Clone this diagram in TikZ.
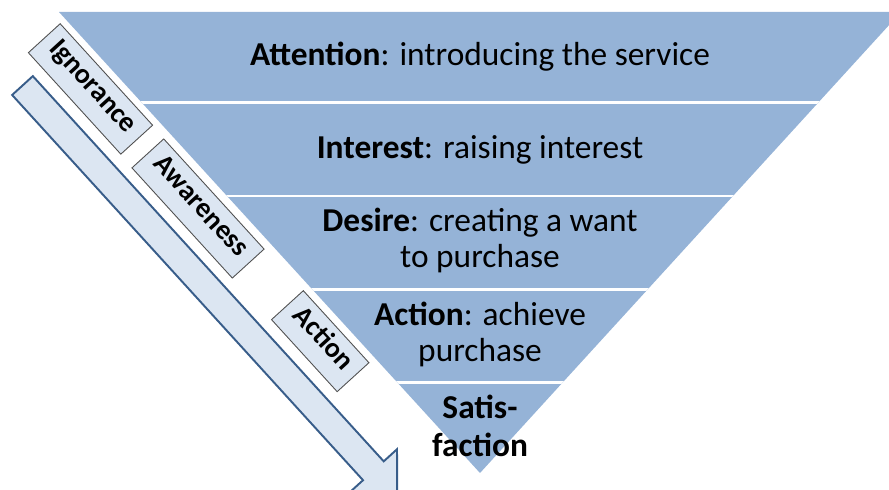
\documentclass[tikz,border=0pt]{standalone}
\usepackage{fontspec}
\setmainfont{Carlito}

\definecolor{funnelblue}{RGB}{149,179,215}
\definecolor{paleblue}{RGB}{220,230,242}
\definecolor{darkblue}{RGB}{56,93,138}
\definecolor{boxgray}{RGB}{80,80,80}

\begin{document}
\begin{tikzpicture}[x=0.02cm, y=0.02cm,
      funnel/.style={fill=funnelblue},
      gap/.style={draw=white, line width=1.6pt},
      step text/.style={anchor=base, align=center, font=\fontsize{19}{20.5}\selectfont},
      stagebox/.style={rectangle, draw=boxgray, fill=paleblue, line width=0.5pt,
        rotate=-47.67, minimum height=0.86cm, inner xsep=0.22cm,
        text height=0.68em, text depth=0.2em, font=\fontsize{16}{16}\selectfont\bfseries},
      flow/.style={draw=darkblue, fill=paleblue, line width=1.1pt, line join=miter}]
      \useasboundingbox (0,0) rectangle (889,490);
      \clip (0,0) rectangle (889,490);
      % the funnel, cut into five bands
      \fill[funnel] (59,478) -- (901,478) -- (480,17) -- cycle;
      \begin{scope}
        \clip (59,478) -- (901,478) -- (480,17) -- cycle;
        \foreach \y in {387.5, 294, 200.5, 107.5}
          \draw[gap] (0,\y) -- (889,\y);
      \end{scope}
      % base anchor sits on the last line
      \node[step text](attention) at (480,424){\textbf{Attention}: introducing the service};
      \node[step text](interest) at (480,331){\textbf{Interest}: raising interest};
      \node[step text](desire) at (480,222){\textbf{Desire}: creating a want\\to purchase};
      \node[step text](action) at (480,128){\textbf{Action}: achieve\\purchase};
      \node[step text,font=\fontsize{19}{22}\selectfont\bfseries](satisfaction) at (480,33){Satis-\\faction};
      % arrow and stage labels along the left side
      \begin{scope}[shift={(0,490)}, rotate=-47.67]
        \draw[flow] (78.4,-27) -- (599.5,-27) -- (599.5,-9) -- (634.7,-41)
          -- (599.5,-73) -- (599.5,-55) -- (78.4,-55) -- cycle;
        \node[stagebox](ignorance) at (126.7,7){Ignorance};
        \node[stagebox](awareness) at (287.5,6){Awareness};
        \node[stagebox](actionstage) at (467.9,7){Action};
      \end{scope}
    \end{tikzpicture}
\end{document}
